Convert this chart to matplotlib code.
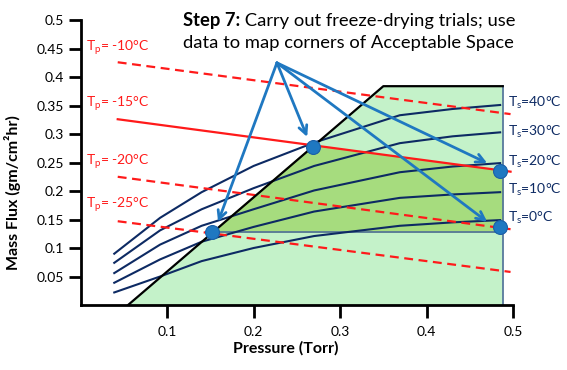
import matplotlib.pyplot as plt
import numpy as np

plt.rcParams['font.family'] = ['Lato', 'DejaVu Sans']
plt.rcParams['mathtext.fontset'] = 'custom'
plt.rcParams['mathtext.rm'] = 'Lato'
plt.rcParams['mathtext.it'] = 'Lato'

# shelf temperature curves (mass flux vs chamber pressure)
pressure = [0.039, 0.092, 0.140, 0.200, 0.270, 0.369, 0.430, 0.485]
ts_labels = ["40", "30", "20", "10", "0"]
ts_flux = [
    [0.090, 0.153, 0.198, 0.244, 0.285, 0.333, 0.344, 0.351],
    [0.074, 0.131, 0.168, 0.205, 0.244, 0.284, 0.296, 0.303],
    [0.056, 0.106, 0.139, 0.168, 0.201, 0.233, 0.243, 0.249],
    [0.039, 0.080, 0.111, 0.137, 0.164, 0.188, 0.194, 0.198],
    [0.022, 0.050, 0.077, 0.100, 0.121, 0.139, 0.145, 0.149],
]
ts_label_y = [0.354, 0.304, 0.251, 0.202, 0.153]

# product temperature isotherms (straight lines)
tp_labels = ["-10", "-15", "-20", "-25"]
tp_x = [0.043, 0.497]
tp_flux = [
    [0.426, 0.335],
    [0.326, 0.234],
    [0.225, 0.133],
    [0.147, 0.058],
]
tp_label_y = [0.452, 0.354, 0.251, 0.176]

# acceptable space boundaries
accept_p = [0.055, 0.350, 0.488, 0.488]
accept_flux = [0.0, 0.384, 0.384, 0.0]
design_p = [0.153, 0.269, 0.488, 0.488]
design_flux = [0.128, 0.279, 0.235, 0.128]

# trial points and arrows
trial_p = [0.152, 0.269, 0.485, 0.485]
trial_flux = [0.128, 0.277, 0.235, 0.137]
arrow_src = (0.227, 0.425)
arrow_tip_p = [0.159, 0.262, 0.470, 0.470]
arrow_tip_flux = [0.146, 0.295, 0.249, 0.146]

navy = "#0d2a63"
red = "#ff1a1a"
blue = "#1f78c1"

fig = plt.figure(figsize=(5.67, 3.70), dpi=100)
ax = fig.add_axes([0.142, 0.1757, 0.763, 0.770])

ax.fill(accept_p, accept_flux, color="#c4f2c9", zorder=1)
ax.fill(design_p, design_flux, color="#a6dc7e", zorder=1.1)
ax.plot([design_p[0], design_p[2]], [design_flux[0], design_flux[3]], color="#4f6f99", lw=1.2, zorder=1.2)
ax.plot(accept_p[2:], accept_flux[2:], color="#4f6f99", lw=1.2, zorder=1.2)

for fl in ts_flux:
    ax.plot(pressure, fl, color=navy, lw=1.5, zorder=2, solid_joinstyle="round")

for i, fl in enumerate(tp_flux):
    ls = "-" if i == 1 else (0, (4, 2.5))
    ax.plot(tp_x, fl, color=red, lw=1.6, ls=ls, zorder=3)

ax.plot(accept_p[:3], accept_flux[:3], color="black", lw=1.6, zorder=3.5)

for px, fl in zip(arrow_tip_p, arrow_tip_flux):
    ax.annotate("", xy=(px, fl), xytext=arrow_src,
                arrowprops=dict(arrowstyle="->,head_length=0.6,head_width=0.3",
                                color=blue, lw=2, shrinkA=0, shrinkB=0),
                zorder=4)

ax.plot(trial_p, trial_flux, "o", ms=10, color=blue, mec="#1a5fa8", mew=0.8, zorder=5)

for lab, y in zip(tp_labels, tp_label_y):
    ax.text(0.006, y, r"T$_\mathrm{p}$= " + lab + "°C", color=red, fontsize=10,
            va="center", ha="left")
for lab, y in zip(ts_labels, ts_label_y):
    ax.text(0.494, y, r"T$_\mathrm{s}$=" + lab + "°C", color=navy, fontsize=10,
            va="center", ha="left", clip_on=False)

t1 = ax.text(0.1185, 0.500, "Step 7:", fontsize=13.2, fontweight="bold",
             va="center", ha="left", color="black")
ax.annotate(" Carry out freeze-drying trials; use", xy=(1, 0), xycoords=t1,
            fontsize=13.2, va="bottom", ha="left", color="black")
ax.text(0.1185, 0.460, "data to map corners of Acceptable Space",
        fontsize=13.2, va="center", ha="left", color="black")

ax.set_xlim(0, 0.5)
ax.set_ylim(0, 0.5)
ax.set_xticks([0.1, 0.2, 0.3, 0.4, 0.5])
ax.set_xticklabels(["0.1", "0.2", "0.3", "0.4", "0.5"])
ax.set_yticks([0.05, 0.1, 0.15, 0.2, 0.25, 0.3, 0.35, 0.4, 0.45, 0.5])
ax.set_yticklabels(["0.05", "0.1", "0.15", "0.2", "0.25", "0.3", "0.35", "0.4", "0.45", "0.5"])
ax.tick_params(length=9, width=2, labelsize=10, pad=3, colors="black")
ax.tick_params(axis="x", pad=6)
for s in ["top", "right"]:
    ax.spines[s].set_visible(False)
for s in ["left", "bottom"]:
    ax.spines[s].set_linewidth(2)

fig.text(286 / 567, 1 - 348 / 370, "Pressure (Torr)", fontsize=11.5, fontweight="bold",
         ha="center", va="center")
fig.text(13 / 567, 1 - 193 / 370, "Mass Flux (gm/cm²hr)", fontsize=11.5, fontweight="bold",
         ha="center", va="center", rotation=90)

fig.savefig("out.png", dpi=100)
